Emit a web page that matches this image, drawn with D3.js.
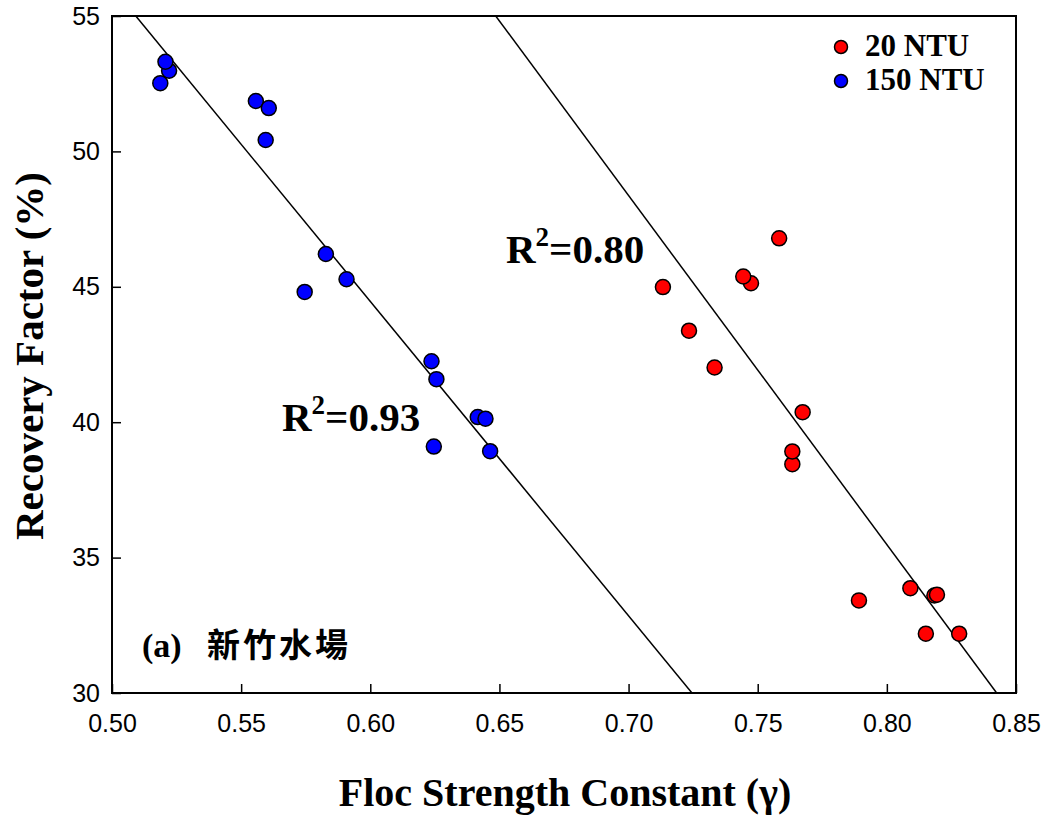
<!DOCTYPE html>
<html>
<head>
<meta charset="utf-8">
<script src="https://cdn.jsdelivr.net/npm/d3@7"></script>
<style>
  html, body { margin: 0; padding: 0; background: #fff; }
  svg { display: block; }
</style>
</head>
<body>
<svg id="chart" width="1044" height="816"></svg>
<script>
// ---- data ----
const seriesNames = ["20 NTU", "150 NTU"];
const seriesColors = ["#ff0000", "#0000ff"];

const ntu20X = [0.7133, 0.7234, 0.7333, 0.7474, 0.7444, 0.7583, 0.7674, 0.7634, 0.7634, 0.7892, 0.8091, 0.8184, 0.8194, 0.8151, 0.8280];
const ntu20Y = [44.99, 43.38, 42.02, 45.13, 45.38, 46.79, 40.37, 38.45, 38.92, 33.42, 33.87, 33.60, 33.63, 32.19, 32.19];

const ntu150X = [0.5187, 0.5221, 0.5207, 0.5557, 0.5607, 0.5595, 0.5828, 0.5908, 0.5746, 0.6237, 0.6256, 0.6416, 0.6446, 0.6246, 0.6464];
const ntu150Y = [52.52, 52.98, 53.31, 51.86, 51.60, 50.42, 46.21, 45.28, 44.81, 42.25, 41.59, 40.19, 40.13, 39.10, 38.93];

// fitted lines (y = slope * x + intercept)
const fitSlopes = [-128.9, -116.1];
const fitIntercepts = [138.6, 114.12];
const fitR2Labels = ["0.80", "0.93"];

const xTicks = [0.50, 0.55, 0.60, 0.65, 0.70, 0.75, 0.80, 0.85];
const yTicks = [30, 35, 40, 45, 50, 55];

const xTitle = "Floc Strength Constant (\u03B3)";
const yTitle = "Recovery Factor (%)";
const panelLabel = "(a)";
const panelName = "新竹水場";

// ---- layout ----
const L = 112, R = 1016, T = 16, B = 693;
const svg = d3.select("#chart");
const x = d3.scaleLinear().domain([0.5, 0.85]).range([L, R]);
const y = d3.scaleLinear().domain([30, 55]).range([B, T]);

const serif = "'Liberation Serif', 'Times New Roman', serif";
const sans = "'Liberation Sans', Arial, sans-serif";

// axes
const xAxis = svg.append("g").attr("transform", `translate(0,${B})`)
  .call(d3.axisBottom(x).tickValues(xTicks).tickFormat(d3.format(".2f")).tickSizeInner(-9).tickSizeOuter(0).tickPadding(21));
const yAxis = svg.append("g").attr("transform", `translate(${L},0)`)
  .call(d3.axisLeft(y).tickValues(yTicks).tickFormat(d3.format("d")).tickSizeInner(-9).tickSizeOuter(0).tickPadding(12));
[xAxis, yAxis].forEach(g => {
  g.select(".domain").remove();
  g.selectAll(".tick line").attr("stroke", "#000").attr("stroke-width", 1.5);
  g.selectAll(".tick text").attr("fill", "#000").style("font-family", sans).style("font-size", "25px");
});

// frame
svg.append("rect").attr("x", L).attr("y", T).attr("width", R - L).attr("height", B - T)
  .attr("fill", "none").attr("stroke", "#000").attr("stroke-width", 2);

// fit lines
svg.append("clipPath").attr("id", "plotclip")
  .append("rect").attr("x", L).attr("y", T).attr("width", R - L).attr("height", B - T);
const lineG = svg.append("g").attr("clip-path", "url(#plotclip)");
fitSlopes.forEach((m, i) => {
  const b = fitIntercepts[i];
  const xa = (55 - b) / m, xb = (30 - b) / m;
  lineG.append("line")
    .attr("x1", x(xa)).attr("y1", y(m * xa + b))
    .attr("x2", x(xb)).attr("y2", y(m * xb + b))
    .attr("stroke", "#000").attr("stroke-width", 1.5);
});

// points
const series = [
  { xs: ntu20X, ys: ntu20Y, color: seriesColors[0] },
  { xs: ntu150X, ys: ntu150Y, color: seriesColors[1] }
];
series.forEach(s => {
  svg.append("g").selectAll("circle")
    .data(s.xs.map((v, i) => [v, s.ys[i]]))
    .join("circle")
    .attr("cx", d => x(d[0])).attr("cy", d => y(d[1])).attr("r", 7.5)
    .attr("fill", s.color).attr("stroke", "#000").attr("stroke-width", 1.5);
});

// legend
const legendY = [47, 81];
seriesNames.forEach((n, i) => {
  svg.append("circle").attr("cx", 841).attr("cy", legendY[i]).attr("r", 6.5)
    .attr("fill", seriesColors[i]).attr("stroke", "#000").attr("stroke-width", 1.5);
  svg.append("text").attr("x", 865).attr("y", legendY[i] + 9)
    .style("font-family", serif).style("font-weight", "bold").style("font-size", "31px")
    .text(n);
});

// R^2 labels
const r2Pos = [[506, 263], [282, 431]];
fitR2Labels.forEach((lab, i) => {
  const t = svg.append("text").attr("x", r2Pos[i][0]).attr("y", r2Pos[i][1])
    .style("font-family", serif).style("font-weight", "bold").style("font-size", "41px");
  t.append("tspan").text("R");
  t.append("tspan").attr("dy", -17).style("font-size", "27px").text("2");
  t.append("tspan").attr("dy", 17).text("=" + lab);
});

// panel label
svg.append("text").attr("x", 142).attr("y", 657)
  .style("font-family", serif).style("font-weight", "bold").style("font-size", "34px")
  .text(panelLabel);
svg.append("text").attr("x", 207).attr("y", 657)
  .style("font-family", "'Noto Sans CJK TC', sans-serif").style("font-size", "33px")
  .style("font-weight", "bold").style("letter-spacing", "3px")
  .text(panelName);

// axis titles
svg.append("text").attr("x", 565).attr("y", 806).attr("text-anchor", "middle")
  .style("font-family", serif).style("font-weight", "bold").style("font-size", "40px")
  .text(xTitle);
svg.append("text").attr("transform", "translate(43,356) rotate(-90)").attr("text-anchor", "middle")
  .style("font-family", serif).style("font-weight", "bold").style("font-size", "41px")
  .text(yTitle);
</script>
</body>
</html>
